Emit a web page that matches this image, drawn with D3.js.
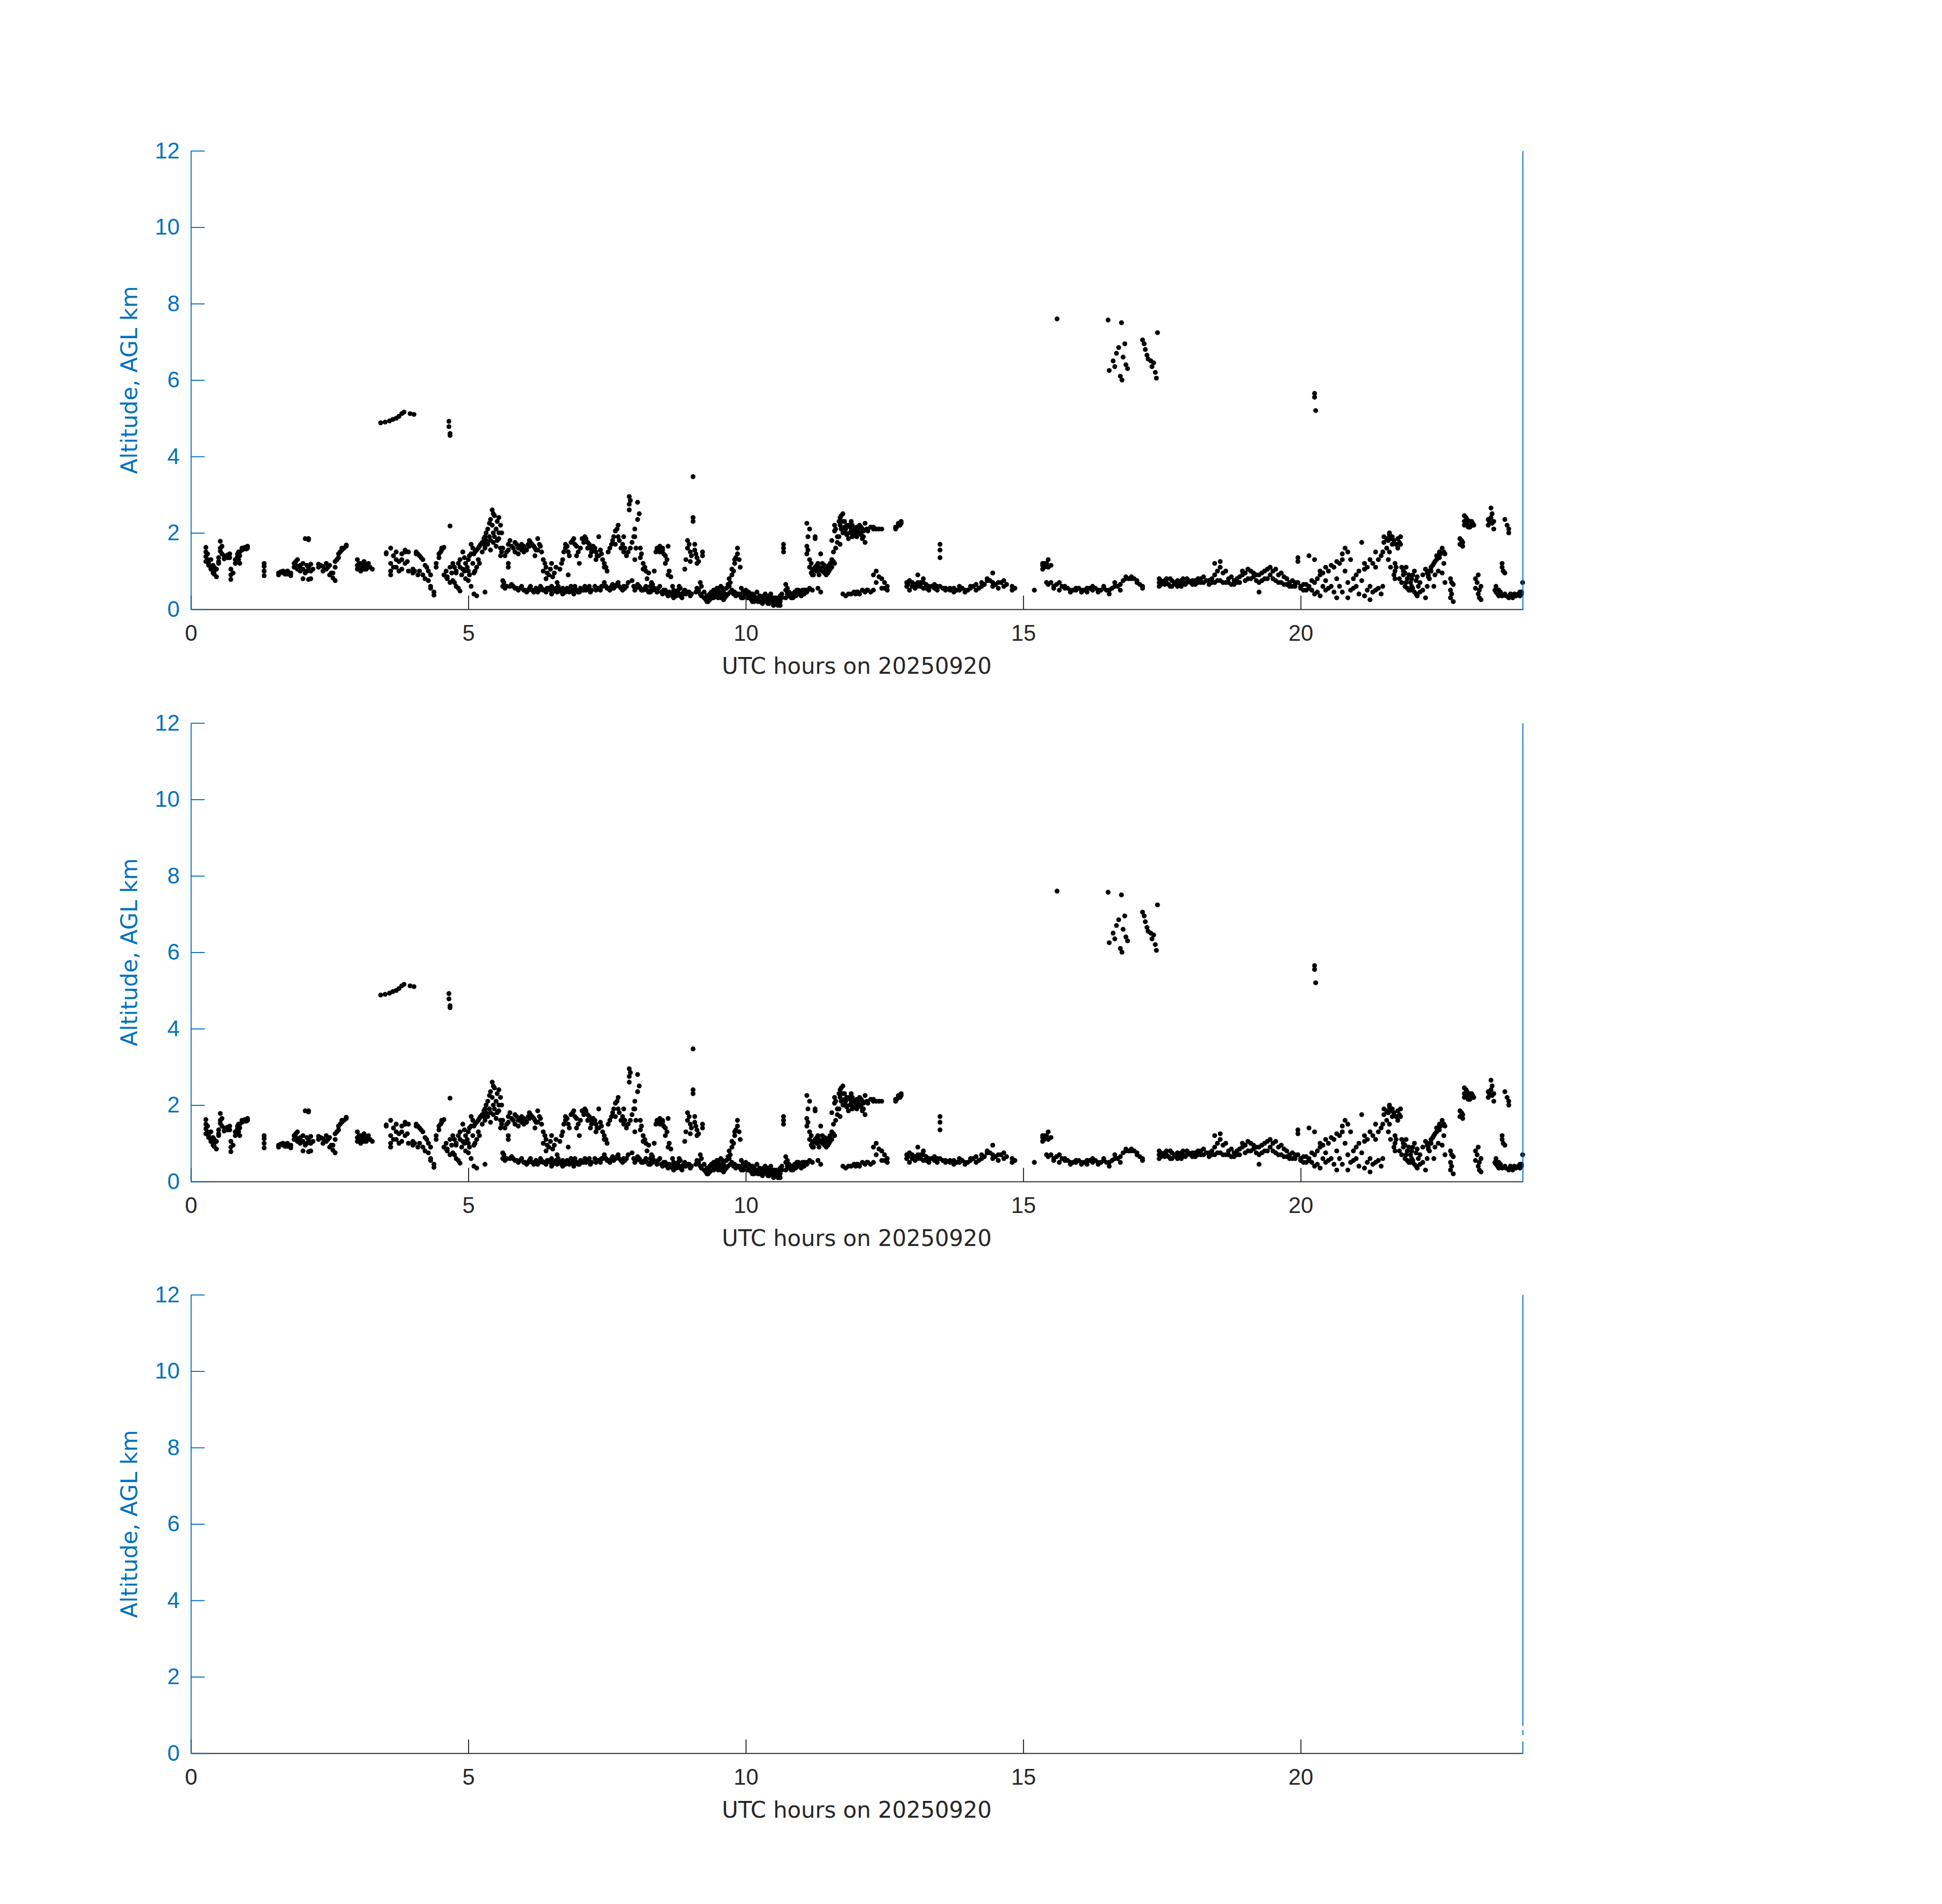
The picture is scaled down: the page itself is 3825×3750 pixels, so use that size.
<!DOCTYPE html>
<html lang="en">
<head>
<meta charset="UTF-8">
<title>Cloud base altitude, 20250920</title>
<style>
  body { margin: 0; background: #fff; }
  svg { display: block; font-family: "DejaVu Sans", sans-serif; }
</style>
</head>
<body>
<div id="chart"></div>
<script src="https://d3js.org/d3.v7.min.js"></script>
<script>
const hourTicks = [0, 5, 10, 15, 20];
const altTicks = [0, 2, 4, 6, 8, 10, 12];
const xLabel = "UTC hours on 20250920";
const yLabel = "Altitude, AGL km";

// cloud base hits: [UTC hour, [km AGL, ...]]
const cbh0006 = [
  [0.27, [1.62, 1.5, 1.38, 1.25]], [0.3, [1.45, 1.3]], [0.32, [1.2, 1.15]], [0.36, [1.1, 1.05, 1.3]],
  [0.4, [1.15, 0.95]], [0.42, [1.1, 1.0, 0.92]], [0.46, [0.85, 1.05]], [0.5, [1.35, 1.25, 1.2]],
  [0.53, [1.78, 1.6, 1.52]], [0.56, [1.65, 1.45]], [0.6, [1.4, 1.32]], [0.66, [1.42, 1.35, 1.4]],
  [0.7, [1.35, 1.45]], [0.72, [1.05, 0.9, 0.78]], [0.76, [0.95]], [0.8, [1.2, 1.3]],
  [0.84, [1.38, 1.45, 1.25]], [0.86, [1.3, 1.5]], [0.88, [1.5, 1.4, 1.2]], [0.92, [1.55, 1.6]],
  [0.95, [1.6]], [0.97, [1.58, 1.62]], [1.0, [1.58]], [1.02, [1.65, 1.6]],
  [1.32, [0.88, 1.0, 1.12, 1.2]], [1.58, [0.9, 0.95]], [1.62, [0.98]], [1.66, [1.0, 0.95]],
  [1.7, [0.92]], [1.74, [0.92, 1.0]], [1.77, [0.95]], [1.8, [0.88, 0.95]], [1.86, [1.2, 1.1]],
  [1.89, [1.15, 1.25]], [1.92, [1.05, 1.3]], [1.95, [1.1]], [1.97, [1.15, 1.0]],
  [2.02, [1.2, 0.8, 1.05]], [2.06, [1.85, 0.95]], [2.09, [1.0, 1.15]],
  [2.12, [1.85, 1.82, 0.78, 1.1]], [2.16, [0.8, 1.0, 1.18]], [2.2, [1.05]],
  [2.3, [1.1, 1.18]], [2.34, [1.15]], [2.38, [1.0, 1.12]], [2.41, [1.05]], [2.44, [1.05, 1.2]],
  [2.47, [1.1]], [2.5, [0.9, 1.15]], [2.53, [0.95]], [2.56, [0.82, 0.95]],
  [2.6, [0.75, 1.1, 1.25]], [2.63, [1.3]], [2.66, [1.35, 1.45]], [2.69, [1.5]],
  [2.72, [1.55, 1.6]], [2.76, [1.6]], [2.8, [1.65, 1.68]],
  [3.0, [1.05, 1.3, 1.15]], [3.03, [1.1, 1.2]], [3.06, [1.2, 1.0, 1.1]], [3.09, [1.15]],
  [3.12, [1.05, 1.25]], [3.16, [1.15, 1.05]], [3.2, [1.1, 1.2]], [3.23, [1.1]], [3.27, [1.05]],
  [3.52, [1.45, 1.48]], [3.6, [1.6, 1.2, 1.0, 0.9]], [3.65, [1.4, 1.1]], [3.7, [1.5, 1.3, 1.1]],
  [3.75, [1.25, 1.0]], [3.8, [1.3, 1.05, 1.45]], [3.86, [1.5, 1.55, 1.2]], [3.9, [1.25]],
  [3.92, [1.5, 1.0]], [4.0, [1.05, 0.95]], [4.03, [1.0]], [4.06, [1.5, 1.45]],
  [4.09, [1.45, 0.9]], [4.12, [1.4, 1.0]], [4.15, [1.35]], [4.18, [1.3, 0.9]],
  [4.22, [1.15, 0.8]], [4.25, [1.1]], [4.28, [1.0, 0.75]], [4.32, [0.9, 0.6, 0.55]],
  [4.38, [0.45, 0.37]], [4.42, [1.2, 1.1]], [4.47, [1.45, 1.35]], [4.5, [1.5]],
  [4.52, [1.6, 1.55]], [4.56, [1.62, 0.9]], [4.6, [1.0, 0.85]], [4.62, [0.85, 0.8]],
  [4.67, [2.18, 1.1, 0.7]], [4.7, [0.95]], [4.72, [0.75, 1.2]], [4.75, [1.1, 0.7]],
  [4.78, [0.6, 0.95, 1.0]], [4.82, [1.2, 0.55]], [4.85, [0.48, 1.1, 1.3]], [4.88, [0.9]],
  [4.9, [1.05, 1.5]], [4.93, [1.35, 1.0]], [4.95, [1.2, 0.8]], [4.98, [1.1]],
  [5.0, [1.3, 1.0, 0.75]], [5.02, [1.4, 0.9]], [5.05, [1.7, 0.6, 1.45]], [5.08, [1.6, 1.2]],
  [5.1, [1.45, 0.95, 0.4]], [5.12, [1.5, 1.0]], [5.15, [1.55, 0.35, 1.1]], [5.18, [1.6, 1.3]],
  [5.2, [1.65, 1.2]], [5.22, [1.7]], [5.25, [1.75, 1.5]], [5.28, [1.85, 1.7]],
  [5.3, [1.9, 1.6, 0.45]], [5.32, [2.0, 1.8]], [5.35, [2.1, 1.7]], [5.38, [2.25, 1.9]],
  [5.4, [2.35, 1.8, 1.55]], [5.43, [2.6, 2.2]], [5.45, [2.5, 2.0, 1.75]], [5.47, [2.45, 1.9]],
  [5.5, [2.1, 1.65]], [5.52, [2.3, 1.8]], [5.55, [2.4, 2.0, 1.85]], [5.58, [2.2, 1.6, 1.4]],
  [5.6, [2.0, 1.5]], [5.62, [1.6, 0.75, 0.6]], [5.64, [0.7]], [5.66, [1.4, 0.55]],
  [5.69, [1.5, 0.6]], [5.72, [1.7, 1.55, 1.2, 1.1]], [5.75, [1.8, 0.6]], [5.78, [1.65, 0.65]],
  [5.81, [1.6, 0.6]], [5.84, [1.75, 1.5, 0.55]], [5.87, [1.7, 0.55]], [5.9, [1.6, 1.45, 0.5]],
  [5.93, [1.65, 0.55]], [5.96, [1.7, 1.55, 0.6]]
];

const cbh0612 = [
  [6.0, [1.65, 1.5, 0.5]], [6.02, [1.6, 0.5]], [6.05, [1.55, 0.45]], [6.08, [1.7, 0.5]],
  [6.1, [1.8, 1.65, 0.55]], [6.12, [1.75, 0.6]], [6.15, [1.7, 0.5]], [6.18, [1.65, 0.45]],
  [6.2, [1.6, 1.4, 0.5]], [6.22, [1.55, 0.55]], [6.25, [1.85, 1.55, 0.45]], [6.28, [1.7, 0.5]],
  [6.3, [1.65, 0.6]], [6.32, [1.5, 0.55]], [6.35, [1.3, 1.0, 0.5]], [6.38, [1.2, 0.5]],
  [6.4, [1.1, 0.8, 0.45]], [6.42, [0.95, 0.55]], [6.45, [0.9, 0.55]], [6.48, [1.05, 0.5]],
  [6.5, [1.2, 0.6, 0.4]], [6.52, [0.85, 0.45]], [6.55, [0.95, 0.5]], [6.58, [1.1, 0.55]],
  [6.6, [0.7, 0.45]], [6.62, [0.6, 0.5]], [6.65, [1.05, 0.5]], [6.68, [1.2, 0.45]],
  [6.7, [1.3, 0.55, 0.4]], [6.72, [1.5, 0.5]], [6.75, [1.6, 1.7, 0.45]], [6.78, [1.65, 0.55]],
  [6.8, [1.5, 0.9, 0.5]], [6.82, [1.4, 0.45]], [6.85, [1.75, 0.6]], [6.88, [1.8, 0.5]],
  [6.9, [1.85, 0.55, 0.4]], [6.92, [1.7, 0.6]], [6.95, [1.65, 1.4, 0.5]], [6.98, [1.5, 0.45]],
  [7.0, [1.2, 0.45]], [7.02, [1.6, 0.55]], [7.05, [1.85, 0.5]], [7.08, [1.75, 0.5]],
  [7.1, [1.8, 1.9, 0.6]], [7.12, [1.85, 0.5]], [7.15, [1.75, 1.6, 0.55]], [7.18, [1.7, 0.6]],
  [7.2, [1.6, 1.4, 0.45]], [7.22, [1.5, 0.5]], [7.25, [1.65, 1.55]], [7.28, [1.6, 0.6]],
  [7.3, [1.5, 1.3, 0.5]], [7.32, [1.4, 0.55]], [7.35, [1.4, 1.9, 0.55]], [7.38, [1.55, 0.5]],
  [7.4, [1.45, 0.6]], [7.42, [1.3, 0.6]], [7.45, [1.2, 1.1, 0.7]], [7.48, [1.1, 0.6]],
  [7.5, [1.0, 0.55]], [7.52, [1.5, 0.55]], [7.55, [1.6, 0.5]], [7.58, [1.7, 0.6]],
  [7.6, [1.8, 0.65]], [7.62, [1.9, 0.55]], [7.65, [2.05, 1.7, 0.6]], [7.68, [2.1, 0.65]],
  [7.7, [2.2, 1.9, 0.7]], [7.72, [1.8, 0.6]], [7.75, [1.6, 0.55]], [7.78, [1.7, 0.5]],
  [7.8, [1.9, 1.5, 0.6]], [7.82, [1.6, 0.55]], [7.85, [1.4, 0.6]], [7.88, [1.5, 0.7]],
  [7.9, [2.95, 2.75, 2.6]], [7.92, [2.85, 1.6]], [7.95, [1.75, 0.75]], [7.98, [1.9, 0.6]],
  [8.0, [2.1, 1.9, 1.3, 0.5]], [8.02, [1.6, 0.55]], [8.05, [2.8, 2.35, 0.65]], [8.08, [2.5, 0.6]],
  [8.1, [1.35, 1.6, 0.55]], [8.12, [1.45, 0.5]], [8.15, [1.2, 1.05, 0.5]], [8.18, [1.1, 0.55]],
  [8.2, [1.0, 0.6]], [8.22, [0.8, 0.5]], [8.25, [0.95, 0.45]], [8.28, [0.6, 0.45]],
  [8.3, [0.5, 0.7]], [8.32, [0.65, 0.5]], [8.35, [1.0, 0.55]], [8.38, [1.5, 0.5]],
  [8.4, [1.55, 1.6, 0.45]], [8.42, [1.6, 0.55]], [8.45, [1.5, 1.65, 0.6]], [8.48, [1.55, 0.45]],
  [8.5, [1.6, 1.55, 0.4]], [8.52, [1.45, 0.5]], [8.55, [1.4, 1.2, 0.5]], [8.58, [1.3, 0.4]],
  [8.6, [1.65, 0.9, 0.35]], [8.62, [1.0, 0.45]], [8.65, [0.85, 0.4]], [8.68, [0.6, 0.35]],
  [8.7, [0.5, 0.3]], [8.72, [0.45, 0.35]], [8.75, [0.45, 0.35]], [8.78, [0.5, 0.4]],
  [8.8, [0.6, 0.4]], [8.82, [0.55, 0.35]], [8.85, [0.4, 0.3]], [8.88, [0.45, 0.4]],
  [8.9, [1.05, 0.5]], [8.92, [1.3, 0.4]], [8.95, [1.6, 1.8, 0.45]], [8.98, [1.7, 0.45]],
  [9.0, [1.5, 1.25, 0.35]], [9.02, [1.4, 0.4]], [9.05, [2.4, 2.3, 3.47]], [9.08, [1.7, 1.55]],
  [9.1, [1.45, 0.45]], [9.12, [1.35, 1.2, 0.55]], [9.15, [1.25, 0.5]], [9.18, [0.7, 0.4]],
  [9.2, [0.6, 0.35]], [9.22, [1.4, 1.5]], [9.25, [0.45, 0.3]], [9.28, [0.3, 0.25]],
  [9.3, [0.35, 0.2]], [9.32, [0.2, 0.3]], [9.35, [0.4, 0.25]], [9.38, [0.35, 0.45]],
  [9.4, [0.4, 0.3]], [9.42, [0.5, 0.3]], [9.45, [0.45, 0.35]], [9.48, [0.55, 0.35]],
  [9.5, [0.5, 0.3]], [9.52, [0.45]], [9.55, [0.6, 0.4, 0.3]], [9.58, [0.55, 0.35]],
  [9.6, [0.5, 0.25]], [9.62, [0.4, 0.3]], [9.65, [0.55, 0.35]], [9.68, [0.65, 0.4]],
  [9.7, [0.8, 0.6]], [9.72, [0.7, 0.45]], [9.75, [0.9, 1.05, 0.5]], [9.78, [1.0, 0.4]],
  [9.8, [1.2, 1.3, 0.45]], [9.82, [1.35, 0.35]], [9.85, [1.45, 1.6, 0.4]], [9.88, [1.3, 0.4]],
  [9.9, [1.1, 0.35]], [9.92, [0.55, 0.3]], [9.95, [0.45, 0.3]], [9.98, [0.45, 0.35]],
  [10.0, [0.5, 0.35]], [10.02, [0.4, 0.3]], [10.05, [0.45, 0.3]], [10.08, [0.35, 0.3]],
  [10.1, [0.4, 0.25]], [10.12, [0.4, 0.2]], [10.15, [0.35, 0.2]], [10.18, [0.3, 0.25]],
  [10.2, [0.45, 0.3]], [10.22, [0.3, 0.2]], [10.25, [0.35, 0.2]], [10.28, [0.3, 0.2]],
  [10.3, [0.25, 0.15]], [10.32, [0.2, 0.35]], [10.35, [0.3, 0.4]], [10.38, [0.3, 0.2]],
  [10.4, [0.25, 0.15]], [10.42, [0.35, 0.15]], [10.45, [0.3, 0.4, 0.2]], [10.48, [0.3, 0.2]],
  [10.5, [0.25, 0.1]], [10.52, [0.2, 0.3]], [10.55, [0.15, 0.3]], [10.58, [0.25, 0.1]],
  [10.62, [0.2, 0.35, 0.1]], [10.65, [0.3, 0.4]], [10.68, [1.6, 1.7, 1.5]], [10.72, [0.3, 0.5, 0.65]],
  [10.75, [0.4, 0.55]], [10.78, [0.35, 0.45]], [10.82, [0.4, 0.3]], [10.85, [0.4, 0.3]],
  [10.88, [0.35, 0.45]], [10.9, [0.45, 0.35]], [10.92, [0.4, 0.5]], [10.95, [0.5, 0.4]],
  [10.98, [0.45, 0.4]], [11.0, [0.45, 0.35]], [11.02, [0.4, 0.5]], [11.05, [0.5, 0.4]],
  [11.08, [0.5, 0.45]], [11.1, [2.25, 1.65, 1.45, 0.45]], [11.12, [1.9, 1.55, 0.5]],
  [11.15, [2.1, 1.3, 1.1, 0.55]], [11.18, [1.2, 0.95]], [11.2, [0.9, 1.0, 0.5]],
  [11.22, [1.05, 0.9]], [11.25, [1.9, 1.85, 1.1]], [11.28, [1.15, 1.0]], [11.3, [1.2, 1.0, 0.55]],
  [11.32, [1.1, 0.9]], [11.35, [1.45, 1.05, 0.45]], [11.38, [1.2, 1.0]], [11.4, [1.0, 1.1]],
  [11.42, [1.15, 0.95]], [11.45, [1.05, 0.9]], [11.48, [1.1, 0.95]], [11.5, [1.0, 1.15]],
  [11.52, [1.2, 1.05]], [11.55, [1.8, 1.3, 1.1]], [11.58, [1.5, 1.25]], [11.6, [2.2, 2.05, 1.2]],
  [11.62, [2.1, 1.6]], [11.65, [1.9, 1.75]], [11.68, [2.3, 1.9]], [11.7, [2.4, 2.2, 1.7]],
  [11.72, [2.45, 2.1]], [11.75, [2.5, 2.3, 2.0, 0.4]], [11.78, [2.3, 2.15]],
  [11.8, [2.1, 2.0, 0.35]], [11.82, [2.2, 1.95]], [11.85, [2.2, 1.85, 0.4]], [11.88, [2.15, 2.0]],
  [11.9, [2.05, 2.3, 0.4]], [11.92, [2.2, 1.9]], [11.95, [2.1, 1.95, 0.45]], [11.98, [2.0, 0.4]]
];

const cbh1218 = [
  [12.0, [2.15, 1.9, 0.45]], [12.02, [2.1, 0.45]], [12.05, [2.2, 2.0, 0.4]], [12.08, [2.15, 1.95]],
  [12.1, [2.1, 1.85, 0.5]], [12.12, [2.05, 1.9]], [12.15, [2.25, 1.75, 0.45]], [12.18, [2.1, 0.5]],
  [12.2, [2.05, 0.5]], [12.25, [2.15, 0.45]], [12.3, [2.15, 2.1, 0.5, 0.9]], [12.35, [2.1, 1.0, 0.7]],
  [12.4, [2.1, 0.85]], [12.45, [2.1, 0.8, 0.55]], [12.5, [0.7, 0.55]], [12.55, [0.6, 0.5]],
  [12.7, [2.15, 2.1]], [12.72, [2.15]], [12.75, [2.2, 2.25]], [12.78, [2.2]], [12.8, [2.25, 2.3]],
  [12.9, [0.6, 0.7]], [12.92, [0.65]], [12.95, [0.75, 0.5]], [13.0, [0.7, 0.6]],
  [13.05, [0.65, 0.55]], [13.1, [0.7, 0.6, 0.9]], [13.15, [0.6, 0.7]], [13.2, [0.55, 0.7, 0.8]],
  [13.25, [0.65, 0.55]], [13.3, [0.6, 0.5]], [13.35, [0.6]], [13.4, [0.65, 0.55]],
  [13.45, [0.6, 0.5]], [13.5, [1.7, 1.55, 1.35, 0.6]], [13.55, [0.55]], [13.6, [0.55, 0.5]],
  [13.68, [0.5, 0.55]], [13.75, [0.45, 0.55]], [13.8, [0.5]], [13.85, [0.5, 0.6]], [13.9, [0.55]],
  [13.95, [0.5, 0.45]], [14.0, [0.5]], [14.05, [0.55, 0.6]], [14.1, [0.6]], [14.15, [0.5, 0.65]],
  [14.2, [0.55]], [14.25, [0.6, 0.7]], [14.3, [0.65]], [14.35, [0.75, 0.8]], [14.4, [0.75]],
  [14.45, [0.6, 0.7, 0.95]], [14.5, [0.65]], [14.55, [0.55, 0.7]], [14.6, [0.7]],
  [14.65, [0.75, 0.6]], [14.7, [0.65]], [14.8, [0.6, 0.5]], [14.85, [0.55]], [15.2, [0.5]],
  [15.35, [1.15, 1.2, 1.05]], [15.38, [1.2, 1.1]], [15.42, [1.2, 0.7]], [15.45, [1.3, 1.1, 0.65]],
  [15.5, [1.15, 0.7]], [15.55, [0.6, 0.55]], [15.6, [0.65]], [15.65, [0.7, 0.5]], [15.7, [0.6]],
  [15.75, [0.55, 0.6]], [15.8, [0.55]], [15.85, [0.5, 0.45]], [15.9, [0.5]], [15.95, [0.55, 0.5]],
  [16.0, [0.55]], [16.05, [0.45, 0.5]], [16.1, [0.5]], [16.15, [0.55, 0.45]], [16.2, [0.55]],
  [16.25, [0.6, 0.5]], [16.3, [0.55]], [16.35, [0.5, 0.45]], [16.4, [0.5]], [16.45, [0.55, 0.6]],
  [16.5, [0.5]], [16.55, [0.4, 0.5]], [16.6, [0.55]], [16.65, [0.6, 0.7]], [16.7, [0.6]],
  [16.75, [0.65, 0.5]], [16.8, [0.75]], [16.85, [0.8, 0.85]], [16.9, [0.8]], [16.95, [0.85, 0.8]],
  [17.0, [0.8]], [17.05, [0.75, 0.7]], [17.1, [0.65]], [17.15, [0.55, 0.6]],
  [17.45, [0.8, 0.7, 0.6]], [17.48, [0.75, 0.65]], [17.52, [0.7]], [17.55, [0.75, 0.65]],
  [17.58, [0.8, 0.7]], [17.62, [0.65]], [17.65, [0.8, 0.6]], [17.68, [0.75, 0.6]], [17.72, [0.7]],
  [17.75, [0.7, 0.65]], [17.78, [0.75, 0.6]], [17.82, [0.65]], [17.85, [0.75, 0.6]],
  [17.88, [0.7, 0.8]], [17.92, [0.65]], [17.95, [0.7, 0.8]], [17.98, [0.75]]
];

const cbh1824 = [
  [18.02, [0.7]], [18.05, [0.75, 0.65]], [18.1, [0.75, 0.65]], [18.15, [0.8, 0.7]],
  [18.2, [0.8, 0.7]], [18.25, [0.85, 0.7]], [18.3, [0.75]], [18.35, [0.75, 0.65]],
  [18.4, [0.8, 0.7]], [18.45, [1.2, 0.9, 0.7]], [18.5, [1.0, 0.75]], [18.55, [1.1, 1.25, 0.75]],
  [18.6, [0.95, 0.7]], [18.65, [1.0, 0.7]], [18.7, [0.8, 0.7]], [18.75, [0.85, 0.65]],
  [18.8, [0.75, 0.65]], [18.85, [0.8, 0.7]], [18.9, [0.85, 0.7]], [18.95, [0.9, 1.0]],
  [19.0, [0.95, 0.75]], [19.05, [1.05, 0.8]], [19.1, [1.0, 0.8]], [19.15, [0.95, 0.85]],
  [19.2, [0.9, 0.75]], [19.25, [0.9, 0.7, 0.45]], [19.3, [0.95, 0.75]], [19.35, [1.0, 0.8]],
  [19.4, [1.05, 0.8]], [19.45, [1.1, 0.9]], [19.5, [1.0, 0.8]], [19.55, [1.05, 0.75]],
  [19.6, [0.9, 0.7]], [19.65, [0.95, 0.7]], [19.7, [0.85, 0.65]], [19.75, [0.8, 0.65]],
  [19.8, [0.7, 0.6]], [19.85, [0.75, 0.6]], [19.9, [0.7, 0.6]], [19.95, [1.35, 1.25, 0.7]],
  [20.0, [0.6, 0.55]], [20.05, [0.65, 0.5]], [20.1, [0.65, 0.5]], [20.15, [1.4, 0.6, 0.55]],
  [20.2, [0.75, 0.5]], [20.25, [1.3, 0.7, 0.4]], [20.3, [0.8, 0.45]], [20.35, [0.9, 1.0, 0.35]],
  [20.4, [0.95, 0.6]], [20.45, [1.1, 0.75, 0.5]], [20.5, [1.0, 0.55]], [20.55, [1.15, 0.6]],
  [20.6, [1.1, 0.45]], [20.65, [1.25, 0.8, 0.3]], [20.7, [1.2, 0.6]], [20.75, [1.45, 1.3, 0.45]],
  [20.8, [1.6, 1.0]], [20.85, [1.5, 0.7, 0.3]], [20.9, [1.3, 0.5]], [20.95, [0.55, 0.8]],
  [21.0, [0.9, 0.6]], [21.05, [1.0, 0.4]], [21.1, [1.75, 0.75]], [21.15, [1.05, 1.2, 0.35]],
  [21.2, [1.1, 0.5]], [21.25, [1.3, 0.6, 0.25]], [21.3, [1.2, 0.45]], [21.35, [1.5, 1.1, 0.5]],
  [21.4, [1.3, 0.55]], [21.45, [1.4, 0.4]], [21.48, [1.5, 0.6]], [21.5, [1.9, 1.75]],
  [21.55, [1.85, 1.6]], [21.58, [1.8, 1.3]], [21.6, [2.0, 1.95, 1.5]], [21.62, [1.85, 1.1]],
  [21.65, [1.9, 1.7]], [21.68, [1.8, 0.9]], [21.7, [1.2, 1.0, 0.8]], [21.72, [1.7, 1.1]],
  [21.75, [1.85, 1.6]], [21.78, [1.75, 0.8]], [21.8, [1.9, 1.7]], [21.82, [1.1, 0.7]],
  [21.85, [1.0, 0.9]], [21.88, [0.95, 0.6]], [21.9, [1.1, 0.7]], [21.92, [0.8, 0.55]],
  [21.95, [0.9, 0.5]], [21.98, [0.7, 0.5]], [22.0, [0.8, 0.6]], [22.02, [0.9, 0.55]],
  [22.05, [1.0, 0.45]], [22.08, [0.75, 0.4]], [22.1, [0.85, 0.35]], [22.12, [0.6]],
  [22.15, [0.7, 0.45]], [22.2, [0.9, 0.5]], [22.25, [1.05, 0.3]], [22.28, [0.95, 0.6]],
  [22.3, [0.85, 0.9]], [22.32, [1.0, 0.8]], [22.35, [1.0, 1.1]], [22.38, [1.15]],
  [22.4, [1.2, 0.6]], [22.42, [1.25, 0.9]], [22.45, [1.3, 1.4]], [22.48, [1.4, 1.0]],
  [22.5, [1.5, 1.35]], [22.52, [1.45]], [22.55, [1.6, 0.95]], [22.58, [1.5, 1.2]],
  [22.6, [1.45, 0.7]], [22.7, [0.8, 0.5, 0.3]], [22.72, [0.7, 0.4]], [22.75, [0.65, 0.2]],
  [22.87, [1.85, 1.7]], [22.9, [1.8]], [22.92, [1.75, 1.65]], [22.95, [2.3, 2.45, 2.2]],
  [22.98, [2.4, 2.25]], [23.0, [2.35, 2.2]], [23.02, [2.3, 2.15]], [23.05, [2.15, 2.3]],
  [23.08, [2.2, 2.3]], [23.1, [2.2, 2.25]], [23.12, [2.2]], [23.15, [0.8, 0.55]],
  [23.18, [0.7]], [23.2, [0.9, 0.4]], [23.22, [0.5, 0.3]], [23.25, [0.25, 0.6]],
  [23.38, [2.35, 2.2]], [23.4, [2.3]], [23.43, [2.65, 2.4]], [23.45, [2.5, 2.25]],
  [23.48, [2.3, 2.1]], [23.5, [0.5]], [23.52, [0.6, 0.45]], [23.55, [0.4]], [23.57, [0.5, 0.35]],
  [23.6, [0.45]], [23.63, [1.2, 1.1, 0.35]], [23.65, [1.0]], [23.68, [2.35, 0.95, 0.4]],
  [23.7, [0.35]], [23.72, [2.2]], [23.75, [2.1, 2.0, 0.3]], [23.78, [0.35, 0.4]], [23.82, [0.3]],
  [23.85, [0.35, 0.4]], [23.88, [0.35]], [23.92, [0.4]], [23.95, [0.45, 0.35]],
  [23.98, [0.4, 0.45]], [24.0, [0.7]]
];

// mid / upper level hits
const upperLayer = [
  [3.42, [4.88]], [3.5, [4.9]], [3.58, [4.93]], [3.64, [4.97]], [3.7, [5.0]],
  [3.75, [5.05]], [3.8, [5.12]], [3.84, [5.16]], [3.95, [5.12]], [4.02, [5.1]],
  [4.65, [4.92, 4.78]], [4.67, [4.6, 4.55]],
  [15.61, [7.6]], [16.53, [7.57]], [16.77, [7.5]],
  [16.55, [6.25]], [16.62, [6.5]], [16.65, [6.35]], [16.68, [6.7]], [16.72, [6.85]],
  [16.75, [6.1]], [16.78, [6.0]], [16.8, [6.6]], [16.83, [6.95]], [16.85, [6.4]],
  [16.88, [6.3]],
  [17.15, [7.05]], [17.18, [6.95]], [17.2, [6.8]], [17.23, [6.65]], [17.25, [6.55]],
  [17.3, [6.5]], [17.32, [6.35]], [17.35, [6.45]], [17.38, [6.2]], [17.4, [6.05]],
  [17.42, [7.24]],
  [20.25, [5.65, 5.55]], [20.27, [5.2]]
];

// white (masked) markers that break the right axis line in the bottom panel
const maskedHits = [[24.0, [0.66, 0.42, 0.36]]];

const W = 3825, H = 3750;
const left = 376, right = 2999;
const panelTops = [297, 1424, 2550];
const panelH = 903;
const blue = "#0072BD", dark = "#262626";
const dotR = 4.8;

const flatten = cols => cols.flatMap(([h, ks]) => ks.map(k => ({ h, k })));
const hits = [cbh0006, cbh0612, cbh1218, cbh1824, upperLayer].flatMap(flatten);
const masked = flatten(maskedHits);
const panelData = [hits, hits, []];

const svg = d3.select("#chart").append("svg")
  .attr("width", W).attr("height", H);
svg.append("rect").attr("width", W).attr("height", H).attr("fill", "#fff");

const x = d3.scaleLinear().domain([0, 24]).range([left, right]);

panelTops.forEach((top, i) => {
  const y = d3.scaleLinear().domain([0, 12]).range([top + panelH, top]);
  const g = svg.append("g");

  // points
  g.append("g").selectAll("circle")
    .data(panelData[i])
    .join("circle")
    .attr("cx", d => x(d.h))
    .attr("cy", d => y(d.k))
    .attr("r", dotR)
    .attr("fill", "#000");

  // bottom axis
  const xa = g.append("g")
    .attr("transform", `translate(0,${top + panelH})`)
    .call(d3.axisBottom(x).tickValues(hourTicks).tickSizeInner(-27).tickSizeOuter(0).tickPadding(31));
  xa.select(".domain").attr("stroke", dark).attr("stroke-width", 2);
  xa.selectAll(".tick line").attr("stroke", dark).attr("stroke-width", 2);
  xa.selectAll(".tick text").attr("fill", dark).attr("font-size", 44);

  // right axis (no ticks)
  const ra = g.append("g")
    .attr("transform", `translate(${right},0)`)
    .call(d3.axisRight(y).tickValues([]).tickSizeOuter(0));
  ra.select(".domain").attr("stroke", blue).attr("stroke-width", 2);

  if (i === 2) {
    g.append("g").selectAll("circle")
      .data(masked)
      .join("circle")
      .attr("cx", d => x(d.h))
      .attr("cy", d => y(d.k))
      .attr("r", 4.1)
      .attr("fill", "#fff");
  }

  // left axis
  const ya = g.append("g")
    .attr("transform", `translate(${left},0)`)
    .call(d3.axisLeft(y).tickValues(altTicks).tickSizeInner(-27).tickSizeOuter(0).tickPadding(22));
  ya.select(".domain").attr("stroke", blue).attr("stroke-width", 2);
  ya.selectAll(".tick line").attr("stroke", blue).attr("stroke-width", 2);
  ya.selectAll(".tick text").attr("fill", blue).attr("font-size", 44);

  g.append("text")
    .attr("x", (left + right) / 2)
    .attr("y", top + panelH + 127)
    .attr("text-anchor", "middle")
    .attr("font-size", 44)
    .attr("fill", dark)
    .text(xLabel);

  g.append("text")
    .attr("transform", `translate(270,${top + panelH / 2}) rotate(-90)`)
    .attr("text-anchor", "middle")
    .attr("font-size", 44)
    .attr("fill", blue)
    .text(yLabel);
});
</script>
</body>
</html>
